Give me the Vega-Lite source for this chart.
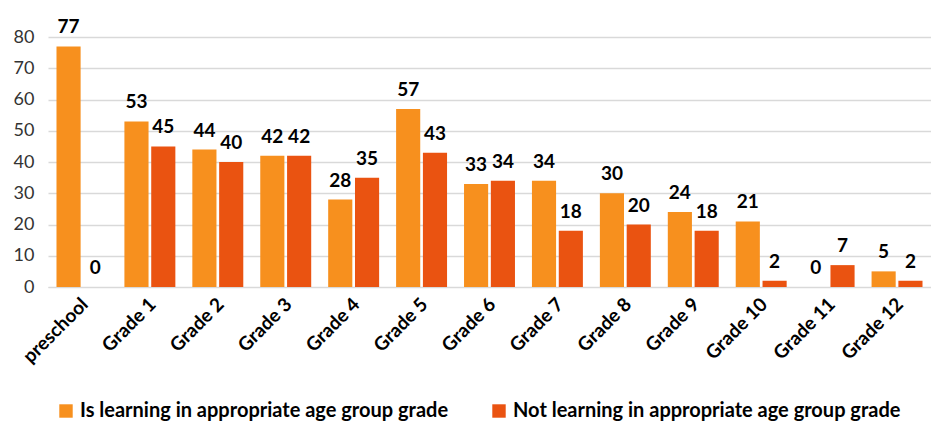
{
  "$schema": "https://vega.github.io/schema/vega-lite/v6.json",
  "width": 883,
  "height": 250,
  "autosize": {"type": "none"},
  "padding": {"left": 48, "top": 37, "right": 0, "bottom": 136},
  "background": "white",
  "config": {"view": {"stroke": null}, "font": "Lato"},
  "data": {
    "values": [
      {"grade": "preschool", "series": "Is learning in appropriate age group grade", "value": 77},
      {"grade": "preschool", "series": "Not learning in appropriate age group grade", "value": 0},
      {"grade": "Grade 1", "series": "Is learning in appropriate age group grade", "value": 53},
      {"grade": "Grade 1", "series": "Not learning in appropriate age group grade", "value": 45},
      {"grade": "Grade 2", "series": "Is learning in appropriate age group grade", "value": 44},
      {"grade": "Grade 2", "series": "Not learning in appropriate age group grade", "value": 40},
      {"grade": "Grade 3", "series": "Is learning in appropriate age group grade", "value": 42},
      {"grade": "Grade 3", "series": "Not learning in appropriate age group grade", "value": 42},
      {"grade": "Grade 4", "series": "Is learning in appropriate age group grade", "value": 28},
      {"grade": "Grade 4", "series": "Not learning in appropriate age group grade", "value": 35},
      {"grade": "Grade 5", "series": "Is learning in appropriate age group grade", "value": 57},
      {"grade": "Grade 5", "series": "Not learning in appropriate age group grade", "value": 43},
      {"grade": "Grade 6", "series": "Is learning in appropriate age group grade", "value": 33},
      {"grade": "Grade 6", "series": "Not learning in appropriate age group grade", "value": 34},
      {"grade": "Grade 7", "series": "Is learning in appropriate age group grade", "value": 34},
      {"grade": "Grade 7", "series": "Not learning in appropriate age group grade", "value": 18},
      {"grade": "Grade 8", "series": "Is learning in appropriate age group grade", "value": 30},
      {"grade": "Grade 8", "series": "Not learning in appropriate age group grade", "value": 20},
      {"grade": "Grade 9", "series": "Is learning in appropriate age group grade", "value": 24},
      {"grade": "Grade 9", "series": "Not learning in appropriate age group grade", "value": 18},
      {"grade": "Grade 10", "series": "Is learning in appropriate age group grade", "value": 21},
      {"grade": "Grade 10", "series": "Not learning in appropriate age group grade", "value": 2},
      {"grade": "Grade 11", "series": "Is learning in appropriate age group grade", "value": 0},
      {"grade": "Grade 11", "series": "Not learning in appropriate age group grade", "value": 7},
      {"grade": "Grade 12", "series": "Is learning in appropriate age group grade", "value": 5},
      {"grade": "Grade 12", "series": "Not learning in appropriate age group grade", "value": 2}
    ]
  },
  "encoding": {
    "x": {
      "field": "grade", "type": "nominal", "sort": null,
      "scale": {"paddingInner": 0.25, "paddingOuter": 0.125},
      "axis": {"title": null, "labelAngle": -45, "labelAlign": "right", "labelBaseline": "middle", "labelFont": "Lato", "labelFontWeight": "bold", "labelFontSize": 19, "labelColor": "#000000", "ticks": false, "domain": true, "domainColor": "#d9d9d9", "labelPadding": 14, "labelOffset": 3, "labelLimit": 200, "labelOverlap": false}
    },
    "xOffset": {"field": "series", "type": "nominal", "scale": {"paddingInner": 0.1, "paddingOuter": 0}},
    "y": {
      "field": "value", "type": "quantitative",
      "scale": {"domain": [0, 80]},
      "axis": {"title": null, "values": [0,10,20,30,40,50,60,70,80], "labelOverlap": false, "grid": true, "gridColor": "#d9d9d9", "gridWidth": 1.5, "domain": false, "ticks": false, "labelFont": "Lato", "labelFontSize": 18, "labelColor": "#333333", "labelPadding": 14}
    }
  },
  "layer": [
    {
      "mark": {"type": "bar"},
      "encoding": {
        "color": {
          "field": "series", "type": "nominal",
          "scale": {"range": ["#F7901E", "#EA5311"]},
          "legend": {"title": null, "orient": "none", "legendX": 8, "legendY": 364, "direction": "horizontal", "symbolType": "square", "symbolSize": 180, "labelFont": "Lato", "labelFontSize": 20, "labelFontWeight": "bold", "labelColor": "#000000", "labelLimit": 500, "columnPadding": 40, "symbolStrokeWidth": 0}
        }
      }
    },
    {
      "mark": {"type": "text", "baseline": "bottom", "dy": -9, "fontSize": 19, "fontWeight": "bold", "font": "Lato", "color": "#000000"},
      "encoding": {"text": {"field": "value", "type": "quantitative"}}
    }
  ]
}
